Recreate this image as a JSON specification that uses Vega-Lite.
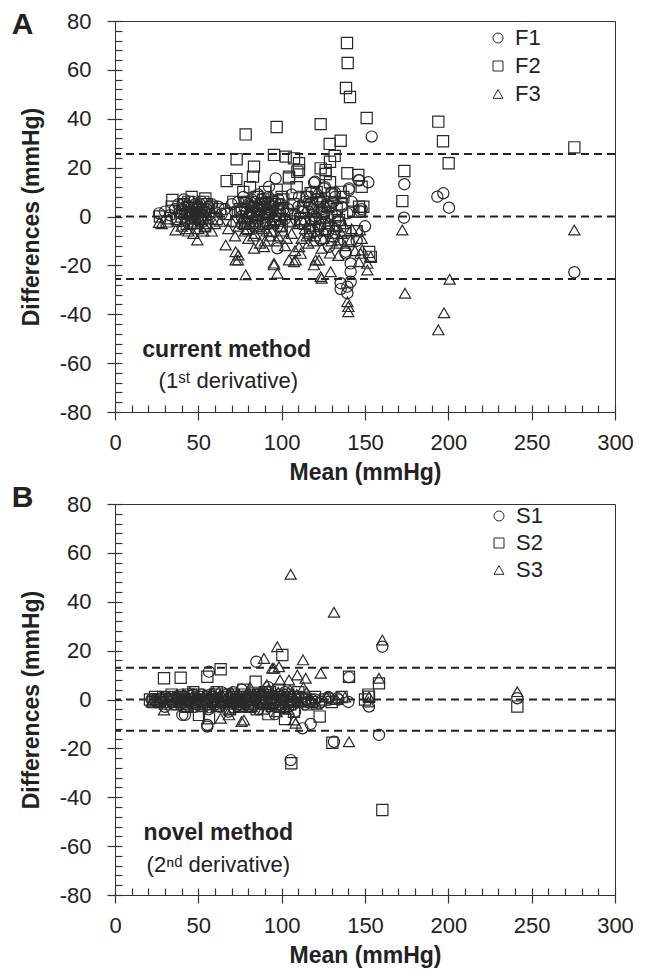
{
  "$schema": "https://vega.github.io/schema/vega-lite/v6.json",
  "padding": {"left": 11, "top": 9, "right": 5, "bottom": 5},
  "config": {
    "font": "Liberation Sans",
    "view": {"stroke": "#333", "strokeWidth": 1},
    "axis": {"domain": false, "grid": false, "labelFontSize": 22, "titleFontSize": 23, "titleFontWeight": "bold", "tickColor": "#333", "tickWidth": 1.2, "labelColor": "#222", "titleColor": "#222", "labelFlush": false, "labelOverlap": false, "labelBound": false, "offset": -7}
  },
  "datasets": {
    "A": [
      {"g":"F1","m":154,"d":32.7},{"g":"F1","m":173.6,"d":13.2},{"g":"F1","m":173.4,"d":-0.5},{"g":"F1","m":193.4,"d":8.1},{"g":"F1","m":197,"d":9.5},{"g":"F1","m":200.4,"d":3.6},{"g":"F1","m":275.6,"d":-22.8},{"g":"F1","m":135.4,"d":-29.7},{"g":"F1","m":139.4,"d":-31.4},{"g":"F1","m":141.4,"d":-22.6},{"g":"F1","m":141.4,"d":-26.7},{"g":"F1","m":96.4,"d":15.6},{"g":"F1","m":92.4,"d":12.2},{"g":"F1","m":120,"d":14.2},{"g":"F1","m":125.4,"d":11.5},{"g":"F1","m":132,"d":9.8},{"g":"F1","m":140.4,"d":11.5},{"g":"F1","m":146.4,"d":14.7},{"g":"F1","m":110.4,"d":8.1},{"g":"F1","m":139.4,"d":1.3},{"g":"F1","m":147.4,"d":2},{"g":"F1","m":132.4,"d":-5.2},{"g":"F1","m":123.4,"d":-9.6},{"g":"F1","m":128.4,"d":-12.4},{"g":"F1","m":138.4,"d":-14.4},{"g":"F1","m":141.4,"d":-19.2},{"g":"F1","m":135.4,"d":-27.3},{"g":"F1","m":139.4,"d":-28.7},{"g":"F1","m":97.4,"d":-13},{"g":"F1","m":26.4,"d":1.3},{"g":"F1","m":41.4,"d":7},{"g":"F1","m":119.4,"d":13.8},{"g":"F1","m":140.4,"d":10.8},{"g":"F1","m":130,"d":9.7},{"g":"F1","m":146.4,"d":15},{"g":"F1","m":138.4,"d":-15.1},
      {"g":"F1","m":30,"d":2},{"g":"F1","m":33,"d":0.5},{"g":"F1","m":36,"d":3},{"g":"F1","m":38,"d":5},{"g":"F1","m":40,"d":1},{"g":"F1","m":42,"d":4},{"g":"F1","m":44,"d":2},{"g":"F1","m":45,"d":6},{"g":"F1","m":46,"d":0},{"g":"F1","m":47,"d":3},{"g":"F1","m":48,"d":5},{"g":"F1","m":49,"d":1.5},{"g":"F1","m":50,"d":4},{"g":"F1","m":51,"d":2},{"g":"F1","m":52,"d":6},{"g":"F1","m":53,"d":0.5},{"g":"F1","m":55,"d":3},{"g":"F1","m":57,"d":1},{"g":"F1","m":58,"d":5},{"g":"F1","m":60,"d":2},{"g":"F1","m":62,"d":4},{"g":"F1","m":64,"d":1},{"g":"F1","m":66,"d":3},{"g":"F1","m":70,"d":5},{"g":"F1","m":72,"d":2},{"g":"F1","m":74,"d":6},{"g":"F1","m":76,"d":0},{"g":"F1","m":77,"d":8},{"g":"F1","m":78,"d":3},{"g":"F1","m":80,"d":5},{"g":"F1","m":81,"d":1},{"g":"F1","m":82,"d":7},{"g":"F1","m":83,"d":4},{"g":"F1","m":85,"d":2},{"g":"F1","m":86,"d":9},{"g":"F1","m":87,"d":5},{"g":"F1","m":88,"d":0.5},{"g":"F1","m":90,"d":6},{"g":"F1","m":91,"d":3},{"g":"F1","m":92,"d":8},{"g":"F1","m":93,"d":1},{"g":"F1","m":95,"d":4},{"g":"F1","m":96,"d":-2},{"g":"F1","m":98,"d":7},{"g":"F1","m":99,"d":2},{"g":"F1","m":100,"d":5},{"g":"F1","m":102,"d":-1},{"g":"F1","m":104,"d":3},{"g":"F1","m":106,"d":9},{"g":"F1","m":108,"d":1},{"g":"F1","m":110,"d":4},{"g":"F1","m":112,"d":-3},{"g":"F1","m":114,"d":6},{"g":"F1","m":116,"d":2},{"g":"F1","m":118,"d":10},{"g":"F1","m":120,"d":0},{"g":"F1","m":121,"d":7},{"g":"F1","m":122,"d":-4},{"g":"F1","m":124,"d":3},{"g":"F1","m":126,"d":12},{"g":"F1","m":127,"d":5},{"g":"F1","m":128,"d":-6},{"g":"F1","m":130,"d":1},{"g":"F1","m":132,"d":8},{"g":"F1","m":134,"d":-2},{"g":"F1","m":136,"d":4},{"g":"F1","m":142,"d":6},{"g":"F1","m":145,"d":-10},{"g":"F1","m":148,"d":3},{"g":"F1","m":150,"d":-4},{"g":"F1","m":152,"d":14},
      {"g":"F1","m":40,"d":3},{"g":"F1","m":41,"d":5},{"g":"F1","m":43,"d":1},{"g":"F1","m":44,"d":4},{"g":"F1","m":46,"d":2},{"g":"F1","m":47,"d":6},{"g":"F1","m":48,"d":1},{"g":"F1","m":49,"d":3},{"g":"F1","m":50,"d":0},{"g":"F1","m":51,"d":5},{"g":"F1","m":52,"d":3},{"g":"F1","m":54,"d":2},{"g":"F1","m":56,"d":4},{"g":"F1","m":76,"d":3},{"g":"F1","m":78,"d":6},{"g":"F1","m":79,"d":2},{"g":"F1","m":80,"d":0},{"g":"F1","m":82,"d":4},{"g":"F1","m":84,"d":6},{"g":"F1","m":85,"d":0},{"g":"F1","m":86,"d":3},{"g":"F1","m":88,"d":7},{"g":"F1","m":89,"d":4},{"g":"F1","m":90,"d":1},{"g":"F1","m":92,"d":5},{"g":"F1","m":94,"d":2},{"g":"F1","m":96,"d":6},{"g":"F1","m":97,"d":1},{"g":"F1","m":99,"d":5},{"g":"F1","m":101,"d":3},{"g":"F1","m":113,"d":2},{"g":"F1","m":115,"d":8},{"g":"F1","m":117,"d":5},{"g":"F1","m":119,"d":3},{"g":"F1","m":123,"d":6},{"g":"F1","m":125,"d":1},{"g":"F1","m":129,"d":4},{"g":"F1","m":131,"d":6},
      {"g":"F2","m":139.2,"d":71},{"g":"F2","m":139.6,"d":62.8},{"g":"F2","m":138.6,"d":52.6},{"g":"F2","m":141,"d":48.9},{"g":"F2","m":151,"d":40.3},{"g":"F2","m":123.4,"d":37.8},{"g":"F2","m":194,"d":38.8},{"g":"F2","m":196.8,"d":30.8},{"g":"F2","m":200.2,"d":21.8},{"g":"F2","m":173.6,"d":18.6},{"g":"F2","m":172.4,"d":6.3},{"g":"F2","m":275.6,"d":28.3},{"g":"F2","m":97,"d":36.6},{"g":"F2","m":78.4,"d":33.6},{"g":"F2","m":128.8,"d":29.7},{"g":"F2","m":135.4,"d":31},{"g":"F2","m":131.8,"d":24.8},{"g":"F2","m":129,"d":22.4},{"g":"F2","m":123.4,"d":19.7},{"g":"F2","m":126.4,"d":17.4},{"g":"F2","m":110.4,"d":21.8},{"g":"F2","m":109.4,"d":18.3},{"g":"F2","m":104.4,"d":16.3},{"g":"F2","m":95.4,"d":25.2},{"g":"F2","m":102.4,"d":24.5},{"g":"F2","m":107.4,"d":23.8},{"g":"F2","m":83.4,"d":20.4},{"g":"F2","m":82.8,"d":16.3},{"g":"F2","m":139.4,"d":17.7},{"g":"F2","m":146,"d":17},{"g":"F2","m":148,"d":12.2},{"g":"F2","m":135.4,"d":10.1},{"g":"F2","m":117.4,"d":9.5},{"g":"F2","m":146.4,"d":4},{"g":"F2","m":147,"d":2},{"g":"F2","m":134.4,"d":-1.4},{"g":"F2","m":73,"d":23.4},{"g":"F2","m":67,"d":14.5},{"g":"F2","m":72.8,"d":15.3},{"g":"F2","m":110.4,"d":19},{"g":"F2","m":104.4,"d":15.6},{"g":"F2","m":34.4,"d":6.8},{"g":"F2","m":54.2,"d":7.4},{"g":"F2","m":126.4,"d":19},{"g":"F2","m":152.5,"d":-14.5},{"g":"F2","m":153.5,"d":-16.5},
      {"g":"F2","m":27,"d":0},{"g":"F2","m":31,"d":-2},{"g":"F2","m":34,"d":4},{"g":"F2","m":37,"d":-1},{"g":"F2","m":39,"d":2},{"g":"F2","m":41,"d":5},{"g":"F2","m":43,"d":-3},{"g":"F2","m":45,"d":1},{"g":"F2","m":46,"d":8},{"g":"F2","m":48,"d":-2},{"g":"F2","m":50,"d":3},{"g":"F2","m":51,"d":0},{"g":"F2","m":53,"d":6},{"g":"F2","m":54,"d":-4},{"g":"F2","m":56,"d":2},{"g":"F2","m":58,"d":4},{"g":"F2","m":61,"d":-1},{"g":"F2","m":63,"d":3},{"g":"F2","m":67,"d":1},{"g":"F2","m":71,"d":6},{"g":"F2","m":73,"d":-2},{"g":"F2","m":75,"d":3},{"g":"F2","m":77,"d":10},{"g":"F2","m":79,"d":0},{"g":"F2","m":80,"d":-5},{"g":"F2","m":81,"d":12},{"g":"F2","m":82,"d":4},{"g":"F2","m":84,"d":-2},{"g":"F2","m":85,"d":8},{"g":"F2","m":86,"d":1},{"g":"F2","m":88,"d":5},{"g":"F2","m":89,"d":-3},{"g":"F2","m":90,"d":10},{"g":"F2","m":92,"d":2},{"g":"F2","m":93,"d":-6},{"g":"F2","m":94,"d":6},{"g":"F2","m":96,"d":-1},{"g":"F2","m":97,"d":11},{"g":"F2","m":98,"d":3},{"g":"F2","m":100,"d":-4},{"g":"F2","m":101,"d":7},{"g":"F2","m":103,"d":1},{"g":"F2","m":105,"d":-2},{"g":"F2","m":107,"d":5},{"g":"F2","m":109,"d":12},{"g":"F2","m":111,"d":-1},{"g":"F2","m":113,"d":4},{"g":"F2","m":115,"d":8},{"g":"F2","m":117,"d":-6},{"g":"F2","m":119,"d":2},{"g":"F2","m":121,"d":10},{"g":"F2","m":123,"d":-3},{"g":"F2","m":125,"d":6},{"g":"F2","m":127,"d":0},{"g":"F2","m":129,"d":14},{"g":"F2","m":131,"d":-8},{"g":"F2","m":133,"d":3},{"g":"F2","m":135,"d":-4},{"g":"F2","m":137,"d":8},{"g":"F2","m":140,"d":-10},{"g":"F2","m":143,"d":2},{"g":"F2","m":145,"d":-6},{"g":"F2","m":149,"d":4},
      {"g":"F2","m":40,"d":0},{"g":"F2","m":42,"d":2},{"g":"F2","m":44,"d":6},{"g":"F2","m":47,"d":1},{"g":"F2","m":49,"d":4},{"g":"F2","m":52,"d":-1},{"g":"F2","m":55,"d":5},{"g":"F2","m":76,"d":2},{"g":"F2","m":78,"d":-3},{"g":"F2","m":79,"d":6},{"g":"F2","m":83,"d":2},{"g":"F2","m":85,"d":-4},{"g":"F2","m":87,"d":3},{"g":"F2","m":89,"d":7},{"g":"F2","m":91,"d":0},{"g":"F2","m":93,"d":4},{"g":"F2","m":95,"d":-2},{"g":"F2","m":97,"d":5},{"g":"F2","m":99,"d":-1},{"g":"F2","m":100,"d":8},{"g":"F2","m":112,"d":2},{"g":"F2","m":114,"d":-3},{"g":"F2","m":118,"d":5},{"g":"F2","m":120,"d":-1},{"g":"F2","m":122,"d":7},{"g":"F2","m":124,"d":2},{"g":"F2","m":126,"d":-5},{"g":"F2","m":128,"d":4},{"g":"F2","m":130,"d":9},{"g":"F2","m":132,"d":0},{"g":"F2","m":136,"d":5},{"g":"F2","m":138,"d":-6},
      {"g":"F3","m":174,"d":-31.4},{"g":"F3","m":197.4,"d":-39.4},{"g":"F3","m":194,"d":-46.4},{"g":"F3","m":200.8,"d":-25.7},{"g":"F3","m":275.6,"d":-5.5},{"g":"F3","m":172.4,"d":-5.5},{"g":"F3","m":147,"d":-5.5},{"g":"F3","m":140,"d":-39},{"g":"F3","m":140,"d":-36.9},{"g":"F3","m":139.4,"d":-34.9},{"g":"F3","m":124,"d":-25.3},{"g":"F3","m":129.4,"d":-22.6},{"g":"F3","m":151.4,"d":-21.9},{"g":"F3","m":147.4,"d":-15.1},{"g":"F3","m":146.4,"d":-18.5},{"g":"F3","m":78.4,"d":-23.9},{"g":"F3","m":97.4,"d":-23.2},{"g":"F3","m":72.4,"d":-17.8},{"g":"F3","m":74,"d":-15.8},{"g":"F3","m":95.4,"d":-19.1},{"g":"F3","m":104.4,"d":-17.8},{"g":"F3","m":107.4,"d":-18.5},{"g":"F3","m":111.4,"d":-15.1},{"g":"F3","m":120.4,"d":-17.8},{"g":"F3","m":119.4,"d":-19.8},{"g":"F3","m":83.4,"d":-13},{"g":"F3","m":66.4,"d":-11.7},{"g":"F3","m":49.4,"d":-9.6},{"g":"F3","m":26.4,"d":-2.5},{"g":"F3","m":36.4,"d":-5.5},{"g":"F3","m":72.4,"d":-14.4},{"g":"F3","m":73.8,"d":-17.8},{"g":"F3","m":95.4,"d":-19.8},{"g":"F3","m":108.4,"d":-17.8},{"g":"F3","m":122.4,"d":-17.8},{"g":"F3","m":123.4,"d":-24.6},{"g":"F3","m":135.4,"d":-9.6},{"g":"F3","m":141.4,"d":-9.6},{"g":"F3","m":148.4,"d":-13.7},{"g":"F3","m":151.4,"d":-19.2},{"g":"F3","m":153.4,"d":-16.4},{"g":"F3","m":110.4,"d":-12.4},{"g":"F3","m":116.4,"d":-6.9},{"g":"F3","m":89.4,"d":-12.4},{"g":"F3","m":121,"d":10},{"g":"F3","m":124,"d":8},{"g":"F3","m":127,"d":4},{"g":"F3","m":118,"d":2},
      {"g":"F3","m":28,"d":-3},{"g":"F3","m":32,"d":-1},{"g":"F3","m":38,"d":-2},{"g":"F3","m":40,"d":-4},{"g":"F3","m":42,"d":-1},{"g":"F3","m":44,"d":-6},{"g":"F3","m":46,"d":-3},{"g":"F3","m":48,"d":-0.5},{"g":"F3","m":50,"d":-5},{"g":"F3","m":52,"d":-2},{"g":"F3","m":54,"d":-4},{"g":"F3","m":56,"d":-1},{"g":"F3","m":58,"d":-6},{"g":"F3","m":60,"d":-3},{"g":"F3","m":63,"d":-2},{"g":"F3","m":68,"d":-5},{"g":"F3","m":70,"d":-2},{"g":"F3","m":72,"d":-8},{"g":"F3","m":74,"d":-4},{"g":"F3","m":76,"d":-1},{"g":"F3","m":78,"d":-6},{"g":"F3","m":80,"d":-9},{"g":"F3","m":82,"d":-3},{"g":"F3","m":84,"d":-7},{"g":"F3","m":86,"d":-1},{"g":"F3","m":88,"d":-5},{"g":"F3","m":90,"d":-10},{"g":"F3","m":92,"d":-3},{"g":"F3","m":94,"d":-6},{"g":"F3","m":96,"d":0},{"g":"F3","m":98,"d":-8},{"g":"F3","m":100,"d":-4},{"g":"F3","m":102,"d":-12},{"g":"F3","m":104,"d":-2},{"g":"F3","m":106,"d":-7},{"g":"F3","m":108,"d":-14},{"g":"F3","m":110,"d":-3},{"g":"F3","m":112,"d":-9},{"g":"F3","m":114,"d":-5},{"g":"F3","m":116,"d":-11},{"g":"F3","m":118,"d":-1},{"g":"F3","m":120,"d":-8},{"g":"F3","m":122,"d":-4},{"g":"F3","m":124,"d":-13},{"g":"F3","m":126,"d":-6},{"g":"F3","m":128,"d":-2},{"g":"F3","m":130,"d":-10},{"g":"F3","m":132,"d":-4},{"g":"F3","m":134,"d":-16},{"g":"F3","m":136,"d":-7},{"g":"F3","m":138,"d":-12},{"g":"F3","m":142,"d":-5},{"g":"F3","m":144,"d":-14},{"g":"F3","m":148,"d":-9},
      {"g":"F3","m":41,"d":-2},{"g":"F3","m":43,"d":-5},{"g":"F3","m":45,"d":-1},{"g":"F3","m":47,"d":-7},{"g":"F3","m":49,"d":-3},{"g":"F3","m":51,"d":-1},{"g":"F3","m":53,"d":-6},{"g":"F3","m":55,"d":-3},{"g":"F3","m":77,"d":-3},{"g":"F3","m":79,"d":-5},{"g":"F3","m":81,"d":-2},{"g":"F3","m":83,"d":-8},{"g":"F3","m":85,"d":-4},{"g":"F3","m":87,"d":-11},{"g":"F3","m":89,"d":-2},{"g":"F3","m":91,"d":-6},{"g":"F3","m":93,"d":-8},{"g":"F3","m":95,"d":-3},{"g":"F3","m":97,"d":-10},{"g":"F3","m":99,"d":-2},{"g":"F3","m":101,"d":-6},{"g":"F3","m":103,"d":-9},{"g":"F3","m":113,"d":-2},{"g":"F3","m":115,"d":-8},{"g":"F3","m":117,"d":-4},{"g":"F3","m":119,"d":-10},{"g":"F3","m":121,"d":-6},{"g":"F3","m":123,"d":-1},{"g":"F3","m":125,"d":-9},{"g":"F3","m":127,"d":-3},{"g":"F3","m":129,"d":-15},{"g":"F3","m":131,"d":-7},{"g":"F3","m":133,"d":-11},{"g":"F3","m":137,"d":-3}
    ],
    "B": [
      {"g":"S1","m":160.4,"d":21.6},{"g":"S1","m":84.8,"d":15.5},{"g":"S1","m":140.4,"d":9.1},{"g":"S1","m":158.4,"d":-14.5},{"g":"S1","m":105.4,"d":-24.8},{"g":"S1","m":152.4,"d":-2.9},{"g":"S1","m":117.4,"d":-10},{"g":"S1","m":112.4,"d":-11.8},{"g":"S1","m":131.4,"d":-17.3},{"g":"S1","m":128.4,"d":0.5},{"g":"S1","m":133.4,"d":0.5},{"g":"S1","m":122.4,"d":-1.6},{"g":"S1","m":241.4,"d":0.5},{"g":"S1","m":56.4,"d":11.4},{"g":"S1","m":40.4,"d":-6.3},{"g":"S1","m":55.4,"d":-10.4},{"g":"S1","m":55.4,"d":-11.1},
      {"g":"S1","m":22,"d":0},{"g":"S1","m":25,"d":-1},{"g":"S1","m":28,"d":0.5},{"g":"S1","m":30,"d":-3},{"g":"S1","m":33,"d":1},{"g":"S1","m":36,"d":-2},{"g":"S1","m":38,"d":0},{"g":"S1","m":40,"d":2},{"g":"S1","m":42,"d":-6.3},{"g":"S1","m":44,"d":-1},{"g":"S1","m":46,"d":1.5},{"g":"S1","m":48,"d":-3},{"g":"S1","m":50,"d":0},{"g":"S1","m":52,"d":2},{"g":"S1","m":54,"d":-1},{"g":"S1","m":56,"d":-4},{"g":"S1","m":58,"d":1},{"g":"S1","m":60,"d":-2},{"g":"S1","m":62,"d":0.5},{"g":"S1","m":64,"d":3},{"g":"S1","m":66,"d":-1},{"g":"S1","m":68,"d":-5},{"g":"S1","m":70,"d":1},{"g":"S1","m":72,"d":0},{"g":"S1","m":74,"d":-2},{"g":"S1","m":76,"d":4},{"g":"S1","m":78,"d":-1},{"g":"S1","m":80,"d":-3},{"g":"S1","m":82,"d":2},{"g":"S1","m":84,"d":0},{"g":"S1","m":86,"d":-4},{"g":"S1","m":88,"d":1},{"g":"S1","m":90,"d":-2},{"g":"S1","m":92,"d":5},{"g":"S1","m":94,"d":0},{"g":"S1","m":96,"d":-6},{"g":"S1","m":98,"d":2},{"g":"S1","m":100,"d":-1},{"g":"S1","m":102,"d":3},{"g":"S1","m":104,"d":-3},{"g":"S1","m":106,"d":0},{"g":"S1","m":108,"d":-5},{"g":"S1","m":110,"d":1},{"g":"S1","m":114,"d":-2},{"g":"S1","m":118,"d":0},{"g":"S1","m":124,"d":-1},{"g":"S1","m":128,"d":1},{"g":"S1","m":134,"d":0},{"g":"S1","m":140,"d":-1},
      {"g":"S1","m":24,"d":0},{"g":"S1","m":27,"d":-1},{"g":"S1","m":31,"d":1},{"g":"S1","m":34,"d":-1},{"g":"S1","m":37,"d":0.5},{"g":"S1","m":39,"d":-2},{"g":"S1","m":41,"d":1},{"g":"S1","m":43,"d":0},{"g":"S1","m":45,"d":-1},{"g":"S1","m":47,"d":2},{"g":"S1","m":49,"d":-2},{"g":"S1","m":51,"d":1},{"g":"S1","m":53,"d":0},{"g":"S1","m":55,"d":-2},{"g":"S1","m":57,"d":2},{"g":"S1","m":59,"d":-1},{"g":"S1","m":61,"d":0},{"g":"S1","m":63,"d":-3},{"g":"S1","m":65,"d":1},{"g":"S1","m":67,"d":2},{"g":"S1","m":69,"d":-1},{"g":"S1","m":71,"d":3},{"g":"S1","m":73,"d":-1},{"g":"S1","m":75,"d":0},{"g":"S1","m":77,"d":-3},{"g":"S1","m":79,"d":1},{"g":"S1","m":81,"d":0},{"g":"S1","m":83,"d":-2},{"g":"S1","m":85,"d":2},{"g":"S1","m":87,"d":-1},{"g":"S1","m":89,"d":3},{"g":"S1","m":91,"d":0},{"g":"S1","m":93,"d":-2},{"g":"S1","m":95,"d":1},{"g":"S1","m":97,"d":-3},{"g":"S1","m":99,"d":0},{"g":"S1","m":101,"d":2},{"g":"S1","m":103,"d":-1},{"g":"S1","m":105,"d":1},{"g":"S1","m":107,"d":-2},{"g":"S1","m":109,"d":0},{"g":"S1","m":112,"d":1},{"g":"S1","m":116,"d":-1},{"g":"S1","m":120,"d":0},
      {"g":"S2","m":160.4,"d":-45.2},{"g":"S2","m":130.4,"d":-17.7},{"g":"S2","m":105.8,"d":-26.1},{"g":"S2","m":100.4,"d":18.2},{"g":"S2","m":140.4,"d":9.3},{"g":"S2","m":158.4,"d":6.6},{"g":"S2","m":122.8,"d":-7},{"g":"S2","m":152.4,"d":1.1},{"g":"S2","m":241.4,"d":-2.9},{"g":"S2","m":29.4,"d":8.7},{"g":"S2","m":39.4,"d":8.9},{"g":"S2","m":55.4,"d":9.3},{"g":"S2","m":63.4,"d":12.4},{"g":"S2","m":84.4,"d":7.3},{"g":"S2","m":50.4,"d":-6.3},{"g":"S2","m":56.4,"d":-7.7},{"g":"S2","m":107.4,"d":-5},
      {"g":"S2","m":21,"d":0},{"g":"S2","m":24,"d":1},{"g":"S2","m":27,"d":-1},{"g":"S2","m":31,"d":0},{"g":"S2","m":34,"d":2},{"g":"S2","m":37,"d":-2},{"g":"S2","m":41,"d":1},{"g":"S2","m":43,"d":-3},{"g":"S2","m":45,"d":0},{"g":"S2","m":47,"d":3},{"g":"S2","m":49,"d":-1},{"g":"S2","m":53,"d":1},{"g":"S2","m":57,"d":-2},{"g":"S2","m":59,"d":0},{"g":"S2","m":61,"d":3},{"g":"S2","m":65,"d":-1},{"g":"S2","m":67,"d":1},{"g":"S2","m":69,"d":-4},{"g":"S2","m":71,"d":2},{"g":"S2","m":73,"d":0},{"g":"S2","m":75,"d":-2},{"g":"S2","m":77,"d":4},{"g":"S2","m":79,"d":1},{"g":"S2","m":81,"d":-3},{"g":"S2","m":83,"d":0},{"g":"S2","m":86,"d":2},{"g":"S2","m":88,"d":-1},{"g":"S2","m":90,"d":3},{"g":"S2","m":92,"d":-6},{"g":"S2","m":94,"d":1},{"g":"S2","m":96,"d":-2},{"g":"S2","m":98,"d":4},{"g":"S2","m":100,"d":0},{"g":"S2","m":102,"d":-8},{"g":"S2","m":104,"d":2},{"g":"S2","m":106,"d":-1},{"g":"S2","m":110,"d":3},{"g":"S2","m":112,"d":0},{"g":"S2","m":116,"d":-2},{"g":"S2","m":120,"d":1},{"g":"S2","m":126,"d":0},{"g":"S2","m":130,"d":-1},{"g":"S2","m":136,"d":1},{"g":"S2","m":150,"d":0},{"g":"S2","m":152,"d":2},
      {"g":"S2","m":23,"d":-1},{"g":"S2","m":26,"d":0},{"g":"S2","m":29,"d":1},{"g":"S2","m":32,"d":-1},{"g":"S2","m":35,"d":0},{"g":"S2","m":38,"d":1},{"g":"S2","m":40,"d":-1},{"g":"S2","m":42,"d":0},{"g":"S2","m":44,"d":2},{"g":"S2","m":46,"d":-1},{"g":"S2","m":48,"d":0},{"g":"S2","m":50,"d":2},{"g":"S2","m":52,"d":-2},{"g":"S2","m":54,"d":0},{"g":"S2","m":56,"d":1},{"g":"S2","m":58,"d":-1},{"g":"S2","m":60,"d":2},{"g":"S2","m":62,"d":-2},{"g":"S2","m":64,"d":0},{"g":"S2","m":66,"d":2},{"g":"S2","m":68,"d":-1},{"g":"S2","m":70,"d":0},{"g":"S2","m":72,"d":-3},{"g":"S2","m":74,"d":1},{"g":"S2","m":76,"d":-1},{"g":"S2","m":78,"d":2},{"g":"S2","m":80,"d":0},{"g":"S2","m":82,"d":-2},{"g":"S2","m":84,"d":1},{"g":"S2","m":85,"d":-4},{"g":"S2","m":87,"d":2},{"g":"S2","m":89,"d":-1},{"g":"S2","m":91,"d":0},{"g":"S2","m":93,"d":3},{"g":"S2","m":95,"d":-1},{"g":"S2","m":97,"d":0},{"g":"S2","m":99,"d":-3},{"g":"S2","m":101,"d":1},{"g":"S2","m":103,"d":0},{"g":"S2","m":105,"d":-2},{"g":"S2","m":108,"d":1},{"g":"S2","m":114,"d":0},{"g":"S2","m":118,"d":-1},
      {"g":"S3","m":105.4,"d":51.2},{"g":"S3","m":131.4,"d":35.7},{"g":"S3","m":160.4,"d":24.3},{"g":"S3","m":97.4,"d":21.6},{"g":"S3","m":89.4,"d":16.8},{"g":"S3","m":95.4,"d":12.8},{"g":"S3","m":98.4,"d":13.4},{"g":"S3","m":112.8,"d":16.2},{"g":"S3","m":123.4,"d":10.7},{"g":"S3","m":158.4,"d":8.7},{"g":"S3","m":152.4,"d":1.1},{"g":"S3","m":109.4,"d":10},{"g":"S3","m":114.4,"d":8.7},{"g":"S3","m":104.4,"d":8},{"g":"S3","m":108.4,"d":-9.7},{"g":"S3","m":140.4,"d":-17.3},{"g":"S3","m":241.4,"d":3.2},{"g":"S3","m":94.4,"d":12.8},{"g":"S3","m":29.4,"d":-4.3},{"g":"S3","m":63.4,"d":-7.7},{"g":"S3","m":77.4,"d":-8.4},{"g":"S3","m":107.4,"d":-8.4},{"g":"S3","m":68.4,"d":-6.3},{"g":"S3","m":76,"d":-9},
      {"g":"S3","m":23,"d":0},{"g":"S3","m":26,"d":-1},{"g":"S3","m":32,"d":1},{"g":"S3","m":35,"d":-1},{"g":"S3","m":37,"d":2},{"g":"S3","m":40,"d":0},{"g":"S3","m":43,"d":-2},{"g":"S3","m":45,"d":3},{"g":"S3","m":47,"d":-1},{"g":"S3","m":50,"d":1},{"g":"S3","m":52,"d":-3},{"g":"S3","m":55,"d":0},{"g":"S3","m":57,"d":2},{"g":"S3","m":60,"d":-1},{"g":"S3","m":65,"d":1},{"g":"S3","m":67,"d":-2},{"g":"S3","m":70,"d":3},{"g":"S3","m":72,"d":0},{"g":"S3","m":75,"d":-3},{"g":"S3","m":79,"d":1},{"g":"S3","m":81,"d":5},{"g":"S3","m":83,"d":-2},{"g":"S3","m":85,"d":0},{"g":"S3","m":87,"d":3},{"g":"S3","m":89,"d":-4},{"g":"S3","m":91,"d":6},{"g":"S3","m":93,"d":-1},{"g":"S3","m":95,"d":2},{"g":"S3","m":97,"d":-5},{"g":"S3","m":99,"d":8},{"g":"S3","m":101,"d":1},{"g":"S3","m":103,"d":-3},{"g":"S3","m":105,"d":4},{"g":"S3","m":109,"d":2},{"g":"S3","m":111,"d":-1},{"g":"S3","m":113,"d":5},{"g":"S3","m":117,"d":0},{"g":"S3","m":121,"d":-2},{"g":"S3","m":127,"d":1},{"g":"S3","m":133,"d":0},{"g":"S3","m":138,"d":1},{"g":"S3","m":152,"d":-1},
      {"g":"S3","m":22,"d":-1},{"g":"S3","m":25,"d":0},{"g":"S3","m":28,"d":1},{"g":"S3","m":30,"d":-2},{"g":"S3","m":33,"d":0},{"g":"S3","m":36,"d":1},{"g":"S3","m":39,"d":-1},{"g":"S3","m":41,"d":2},{"g":"S3","m":42,"d":-3},{"g":"S3","m":44,"d":0},{"g":"S3","m":46,"d":1},{"g":"S3","m":48,"d":-2},{"g":"S3","m":49,"d":2},{"g":"S3","m":51,"d":0},{"g":"S3","m":53,"d":-1},{"g":"S3","m":54,"d":2},{"g":"S3","m":56,"d":-2},{"g":"S3","m":58,"d":0},{"g":"S3","m":59,"d":3},{"g":"S3","m":61,"d":-3},{"g":"S3","m":62,"d":1},{"g":"S3","m":64,"d":-1},{"g":"S3","m":66,"d":0},{"g":"S3","m":68,"d":2},{"g":"S3","m":69,"d":-4},{"g":"S3","m":71,"d":-1},{"g":"S3","m":73,"d":2},{"g":"S3","m":74,"d":-2},{"g":"S3","m":76,"d":1},{"g":"S3","m":78,"d":-1},{"g":"S3","m":80,"d":3},{"g":"S3","m":82,"d":-3},{"g":"S3","m":84,"d":1},{"g":"S3","m":86,"d":-1},{"g":"S3","m":88,"d":2},{"g":"S3","m":90,"d":-2},{"g":"S3","m":92,"d":4},{"g":"S3","m":94,"d":-3},{"g":"S3","m":96,"d":0},{"g":"S3","m":98,"d":3},{"g":"S3","m":100,"d":-2},{"g":"S3","m":102,"d":1},{"g":"S3","m":104,"d":-4},{"g":"S3","m":106,"d":2},{"g":"S3","m":110,"d":-1},{"g":"S3","m":115,"d":3},{"g":"S3","m":119,"d":-1}
    ]
  },
  "vconcat": [
    {
      "width": 500,
      "height": 391,
      "layer": [
        {
          "data": {"values": [{"d": 0}, {"d": 25.6}, {"d": -25.6}]},
          "mark": {"type": "rule", "strokeDash": [8, 5], "strokeWidth": 2, "color": "#222"},
          "encoding": {"y": {"field": "d", "type": "quantitative", "scale": {"domain": [-80, 80], "nice": false},
            "axis": {"title": "Differences (mmHg)", "values": [-80,-76,-72,-68,-64,-60,-56,-52,-48,-44,-40,-36,-32,-28,-24,-20,-16,-12,-8,-4,0,4,8,12,16,20,24,28,32,36,40,44,48,52,56,60,64,68,72,76,80], "labelExpr": "datum.value % 20 === 0 ? '' + datum.value : ''", "tickSize": {"condition": {"test": "datum.value % 20 === 0", "value": 15}, "value": 7}, "labelPadding": 16, "titlePadding": 16}}}
        },
        {
          "data": {"name": "A"},
          "mark": {"type": "point", "filled": false, "color": "#2a2a2a", "strokeWidth": 1.2, "size": 125, "opacity": 1},
          "encoding": {
            "x": {"field": "m", "type": "quantitative", "scale": {"domain": [0, 300], "nice": false},
              "axis": {"title": "Mean (mmHg)", "values": [0,10,20,30,40,50,60,70,80,90,100,110,120,130,140,150,160,170,180,190,200,210,220,230,240,250,260,270,280,290,300], "labelExpr": "datum.value % 50 === 0 ? '' + datum.value : ''", "tickSize": {"condition": {"test": "datum.value % 50 === 0", "value": 15}, "value": 7}, "labelPadding": 12, "titlePadding": 8}},
            "y": {"field": "d", "type": "quantitative", "scale": {"domain": [-80, 80], "nice": false},
              "axis": {"title": "Differences (mmHg)", "values": [-80,-76,-72,-68,-64,-60,-56,-52,-48,-44,-40,-36,-32,-28,-24,-20,-16,-12,-8,-4,0,4,8,12,16,20,24,28,32,36,40,44,48,52,56,60,64,68,72,76,80], "labelExpr": "datum.value % 20 === 0 ? '' + datum.value : ''", "tickSize": {"condition": {"test": "datum.value % 20 === 0", "value": 15}, "value": 7}, "labelPadding": 16, "titlePadding": 16}},
            "shape": {"field": "g", "type": "nominal", "scale": {"domain": ["F1", "F2", "F3"], "range": ["circle", "square", "triangle-up"]},
              "legend": {"title": null, "orient": "none", "legendX": 372, "legendY": 6, "labelFontSize": 22, "labelColor": "#222", "symbolSize": 100, "symbolStrokeColor": "#2a2a2a", "symbolStrokeWidth": 1, "symbolFillColor": "transparent", "rowPadding": 6, "labelOffset": 6, "padding": 0}}
          }
        },
        {
          "data": {"values": [{}]},
          "mark": {"type": "text", "text": "current method", "fontSize": 23, "fontWeight": "bold", "color": "#222", "align": "center", "baseline": "alphabetic"},
          "encoding": {
            "x": {"datum": 67, "type": "quantitative", "scale": {"domain": [0, 300], "nice": false},
              "axis": {"title": "Mean (mmHg)", "values": [0,10,20,30,40,50,60,70,80,90,100,110,120,130,140,150,160,170,180,190,200,210,220,230,240,250,260,270,280,290,300], "labelExpr": "datum.value % 50 === 0 ? '' + datum.value : ''", "tickSize": {"condition": {"test": "datum.value % 50 === 0", "value": 15}, "value": 7}, "labelPadding": 12, "titlePadding": 8}},
            "y": {"datum": -57.5, "type": "quantitative", "scale": {"domain": [-80, 80], "nice": false},
              "axis": {"title": "Differences (mmHg)", "values": [-80,-76,-72,-68,-64,-60,-56,-52,-48,-44,-40,-36,-32,-28,-24,-20,-16,-12,-8,-4,0,4,8,12,16,20,24,28,32,36,40,44,48,52,56,60,64,68,72,76,80], "labelExpr": "datum.value % 20 === 0 ? '' + datum.value : ''", "tickSize": {"condition": {"test": "datum.value % 20 === 0", "value": 15}, "value": 7}, "labelPadding": 16, "titlePadding": 16}}
          }
        },
        {
          "data": {"values": [{}]},
          "mark": {"type": "text", "text": "(1ˢᵗ derivative)", "fontSize": 22, "color": "#222", "align": "center", "baseline": "alphabetic"},
          "encoding": {
            "x": {"datum": 68, "type": "quantitative", "scale": {"domain": [0, 300], "nice": false},
              "axis": {"title": "Mean (mmHg)", "values": [0,10,20,30,40,50,60,70,80,90,100,110,120,130,140,150,160,170,180,190,200,210,220,230,240,250,260,270,280,290,300], "labelExpr": "datum.value % 50 === 0 ? '' + datum.value : ''", "tickSize": {"condition": {"test": "datum.value % 50 === 0", "value": 15}, "value": 7}, "labelPadding": 12, "titlePadding": 8}},
            "y": {"datum": -70, "type": "quantitative", "scale": {"domain": [-80, 80], "nice": false},
              "axis": {"title": "Differences (mmHg)", "values": [-80,-76,-72,-68,-64,-60,-56,-52,-48,-44,-40,-36,-32,-28,-24,-20,-16,-12,-8,-4,0,4,8,12,16,20,24,28,32,36,40,44,48,52,56,60,64,68,72,76,80], "labelExpr": "datum.value % 20 === 0 ? '' + datum.value : ''", "tickSize": {"condition": {"test": "datum.value % 20 === 0", "value": 15}, "value": 7}, "labelPadding": 16, "titlePadding": 16}}
          }
        },
        {
          "data": {"values": [{}]},
          "mark": {"type": "text", "text": "A", "fontSize": 30, "fontWeight": "bold", "color": "#222", "align": "left", "baseline": "alphabetic"},
          "encoding": {
            "x": {"datum": -62, "type": "quantitative", "scale": {"domain": [0, 300], "nice": false},
              "axis": {"title": "Mean (mmHg)", "values": [0,10,20,30,40,50,60,70,80,90,100,110,120,130,140,150,160,170,180,190,200,210,220,230,240,250,260,270,280,290,300], "labelExpr": "datum.value % 50 === 0 ? '' + datum.value : ''", "tickSize": {"condition": {"test": "datum.value % 50 === 0", "value": 15}, "value": 7}, "labelPadding": 12, "titlePadding": 8}},
            "y": {"datum": 74.7, "type": "quantitative", "scale": {"domain": [-80, 80], "nice": false},
              "axis": {"title": "Differences (mmHg)", "values": [-80,-76,-72,-68,-64,-60,-56,-52,-48,-44,-40,-36,-32,-28,-24,-20,-16,-12,-8,-4,0,4,8,12,16,20,24,28,32,36,40,44,48,52,56,60,64,68,72,76,80], "labelExpr": "datum.value % 20 === 0 ? '' + datum.value : ''", "tickSize": {"condition": {"test": "datum.value % 20 === 0", "value": 15}, "value": 7}, "labelPadding": 16, "titlePadding": 16}}
          }
        }
      ]
    },
    {
      "width": 500,
      "height": 391,
      "layer": [
        {
          "data": {"values": [{"d": 0}, {"d": 13}, {"d": -12.8}]},
          "mark": {"type": "rule", "strokeDash": [8, 5], "strokeWidth": 2, "color": "#222"},
          "encoding": {"y": {"field": "d", "type": "quantitative", "scale": {"domain": [-80, 80], "nice": false},
            "axis": {"title": "Differences (mmHg)", "values": [-80,-76,-72,-68,-64,-60,-56,-52,-48,-44,-40,-36,-32,-28,-24,-20,-16,-12,-8,-4,0,4,8,12,16,20,24,28,32,36,40,44,48,52,56,60,64,68,72,76,80], "labelExpr": "datum.value % 20 === 0 ? '' + datum.value : ''", "tickSize": {"condition": {"test": "datum.value % 20 === 0", "value": 15}, "value": 7}, "labelPadding": 16, "titlePadding": 16}}}
        },
        {
          "data": {"name": "B"},
          "mark": {"type": "point", "filled": false, "color": "#2a2a2a", "strokeWidth": 1.2, "size": 125, "opacity": 1},
          "encoding": {
            "x": {"field": "m", "type": "quantitative", "scale": {"domain": [0, 300], "nice": false},
              "axis": {"title": "Mean (mmHg)", "values": [0,10,20,30,40,50,60,70,80,90,100,110,120,130,140,150,160,170,180,190,200,210,220,230,240,250,260,270,280,290,300], "labelExpr": "datum.value % 50 === 0 ? '' + datum.value : ''", "tickSize": {"condition": {"test": "datum.value % 50 === 0", "value": 15}, "value": 7}, "labelPadding": 12, "titlePadding": 8}},
            "y": {"field": "d", "type": "quantitative", "scale": {"domain": [-80, 80], "nice": false},
              "axis": {"title": "Differences (mmHg)", "values": [-80,-76,-72,-68,-64,-60,-56,-52,-48,-44,-40,-36,-32,-28,-24,-20,-16,-12,-8,-4,0,4,8,12,16,20,24,28,32,36,40,44,48,52,56,60,64,68,72,76,80], "labelExpr": "datum.value % 20 === 0 ? '' + datum.value : ''", "tickSize": {"condition": {"test": "datum.value % 20 === 0", "value": 15}, "value": 7}, "labelPadding": 16, "titlePadding": 16}},
            "shape": {"field": "g", "type": "nominal", "scale": {"domain": ["S1", "S2", "S3"], "range": ["circle", "square", "triangle-up"]},
              "legend": {"title": null, "orient": "none", "legendX": 373, "legendY": 1, "labelFontSize": 22, "labelColor": "#222", "symbolSize": 100, "symbolStrokeColor": "#2a2a2a", "symbolStrokeWidth": 1, "symbolFillColor": "transparent", "rowPadding": 5, "labelOffset": 6, "padding": 0}}
          }
        },
        {
          "data": {"values": [{}]},
          "mark": {"type": "text", "text": "novel method", "fontSize": 23, "fontWeight": "bold", "color": "#222", "align": "center", "baseline": "alphabetic"},
          "encoding": {
            "x": {"datum": 62, "type": "quantitative", "scale": {"domain": [0, 300], "nice": false},
              "axis": {"title": "Mean (mmHg)", "values": [0,10,20,30,40,50,60,70,80,90,100,110,120,130,140,150,160,170,180,190,200,210,220,230,240,250,260,270,280,290,300], "labelExpr": "datum.value % 50 === 0 ? '' + datum.value : ''", "tickSize": {"condition": {"test": "datum.value % 50 === 0", "value": 15}, "value": 7}, "labelPadding": 12, "titlePadding": 8}},
            "y": {"datum": -57.5, "type": "quantitative", "scale": {"domain": [-80, 80], "nice": false},
              "axis": {"title": "Differences (mmHg)", "values": [-80,-76,-72,-68,-64,-60,-56,-52,-48,-44,-40,-36,-32,-28,-24,-20,-16,-12,-8,-4,0,4,8,12,16,20,24,28,32,36,40,44,48,52,56,60,64,68,72,76,80], "labelExpr": "datum.value % 20 === 0 ? '' + datum.value : ''", "tickSize": {"condition": {"test": "datum.value % 20 === 0", "value": 15}, "value": 7}, "labelPadding": 16, "titlePadding": 16}}
          }
        },
        {
          "data": {"values": [{}]},
          "mark": {"type": "text", "text": "(2ⁿᵈ derivative)", "fontSize": 22, "color": "#222", "align": "center", "baseline": "alphabetic"},
          "encoding": {
            "x": {"datum": 62, "type": "quantitative", "scale": {"domain": [0, 300], "nice": false},
              "axis": {"title": "Mean (mmHg)", "values": [0,10,20,30,40,50,60,70,80,90,100,110,120,130,140,150,160,170,180,190,200,210,220,230,240,250,260,270,280,290,300], "labelExpr": "datum.value % 50 === 0 ? '' + datum.value : ''", "tickSize": {"condition": {"test": "datum.value % 50 === 0", "value": 15}, "value": 7}, "labelPadding": 12, "titlePadding": 8}},
            "y": {"datum": -70.6, "type": "quantitative", "scale": {"domain": [-80, 80], "nice": false},
              "axis": {"title": "Differences (mmHg)", "values": [-80,-76,-72,-68,-64,-60,-56,-52,-48,-44,-40,-36,-32,-28,-24,-20,-16,-12,-8,-4,0,4,8,12,16,20,24,28,32,36,40,44,48,52,56,60,64,68,72,76,80], "labelExpr": "datum.value % 20 === 0 ? '' + datum.value : ''", "tickSize": {"condition": {"test": "datum.value % 20 === 0", "value": 15}, "value": 7}, "labelPadding": 16, "titlePadding": 16}}
          }
        },
        {
          "data": {"values": [{}]},
          "mark": {"type": "text", "text": "B", "fontSize": 30, "fontWeight": "bold", "color": "#222", "align": "left", "baseline": "alphabetic"},
          "encoding": {
            "x": {"datum": -62, "type": "quantitative", "scale": {"domain": [0, 300], "nice": false},
              "axis": {"title": "Mean (mmHg)", "values": [0,10,20,30,40,50,60,70,80,90,100,110,120,130,140,150,160,170,180,190,200,210,220,230,240,250,260,270,280,290,300], "labelExpr": "datum.value % 50 === 0 ? '' + datum.value : ''", "tickSize": {"condition": {"test": "datum.value % 50 === 0", "value": 15}, "value": 7}, "labelPadding": 12, "titlePadding": 8}},
            "y": {"datum": 78.8, "type": "quantitative", "scale": {"domain": [-80, 80], "nice": false},
              "axis": {"title": "Differences (mmHg)", "values": [-80,-76,-72,-68,-64,-60,-56,-52,-48,-44,-40,-36,-32,-28,-24,-20,-16,-12,-8,-4,0,4,8,12,16,20,24,28,32,36,40,44,48,52,56,60,64,68,72,76,80], "labelExpr": "datum.value % 20 === 0 ? '' + datum.value : ''", "tickSize": {"condition": {"test": "datum.value % 20 === 0", "value": 15}, "value": 7}, "labelPadding": 16, "titlePadding": 16}}
          }
        }
      ]
    }
  ],
  "spacing": 92,
  "bounds": "flush",
  "resolve": {"scale": {"shape": "independent", "x": "independent", "y": "independent"}, "legend": {"shape": "independent"}}
}
